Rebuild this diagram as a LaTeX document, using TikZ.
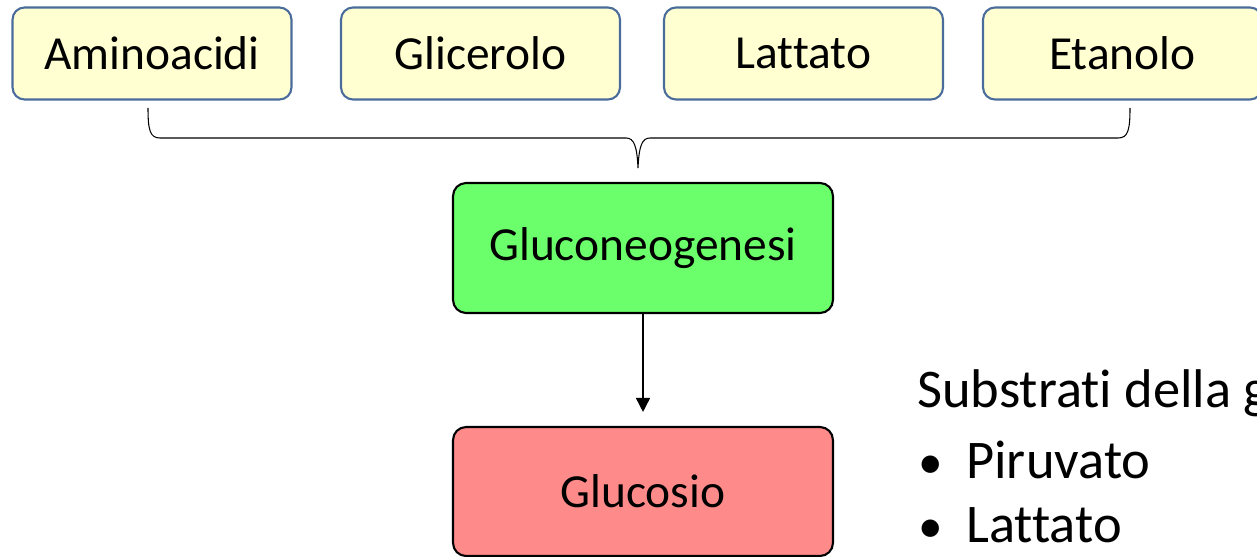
\documentclass[tikz,border=0pt]{standalone}
\usepackage{fontspec}
\setmainfont{Carlito}[Ligatures={NoCommon,NoRequired,NoContextual}, RawFeature={-liga;-clig}]
\usetikzlibrary{arrows.meta}
\definecolor{yel}{HTML}{FFFFD2}
\definecolor{yelborder}{HTML}{4A6C9B}
\definecolor{grn}{HTML}{6CFF6C}
\definecolor{rd}{HTML}{FF8A8A}
\tikzset{
  srcbox/.style={draw=yelborder, line width=1.2pt, fill=yel, rounded corners=0.24cm,
    minimum width=5.58cm, minimum height=1.84cm, font=\fontsize{27}{32}\selectfont, inner sep=0pt},
  mainbox/.style={draw=black, line width=1.2pt, rounded corners=0.26cm,
    minimum width=7.6cm, minimum height=2.6cm, font=\fontsize{27}{32}\selectfont, inner sep=0pt},
  bigtext/.style={anchor=base west, inner sep=0pt, font=\fontsize{31}{37}\selectfont},
  bullettext/.style={anchor=base west, inner sep=0pt, font=\fontsize{28}{37}\selectfont},
  bracepath/.style={draw=black, line width=0.6pt},
  arr/.style={draw=black, line width=0.9pt, -{Triangle[length=8pt,width=8pt]}}
}
\begin{document}
\begin{tikzpicture}[x=0.02cm, y=-0.02cm]
\useasboundingbox (0,0) rectangle (1257,557);
\clip (0,0) rectangle (1257,557);
\node[srcbox] (amino) at (152,53.5) {Aminoacidi};
\node[srcbox] (glic) at (480.5,53.5) {Glicerolo};
\node[srcbox] (latt) at (803.5,53.5) {Lattato};
\node[srcbox] (etan) at (1122.5,53.5) {Etanolo};
\node[mainbox, fill=grn] (gng) at (643,248) {Gluconeogenesi};
\node[mainbox, fill=rd, minimum height=2.58cm] (glc) at (643,491.5) {Glucosio};
\coordinate (bl) at (148,108);
\coordinate (br) at (1130,108);
\coordinate (tip) at (638,168);
\draw[bracepath] (bl) .. controls (148,130) and (150,138) .. (160,138) -- (626,138)
  .. controls (634,138) and (637,146) .. (tip)
  .. controls (639,146) and (642,138) .. (650,138) -- (1118,138)
  .. controls (1128,138) and (1130,130) .. (br);
\draw[arr, shorten >=0.28cm] (gng.south) -- (glc.north);
\node[bigtext] (sub) at (917,407) {Substrati della g};
\node[bullettext] (b1) at (918,478) {•};
\node[bigtext] (pir) at (966,478) {Piruvato};
\node[bullettext] (b2) at (918,542) {•};
\node[bigtext] (lat2) at (966,542) {Lattato};
\end{tikzpicture}
\end{document}
